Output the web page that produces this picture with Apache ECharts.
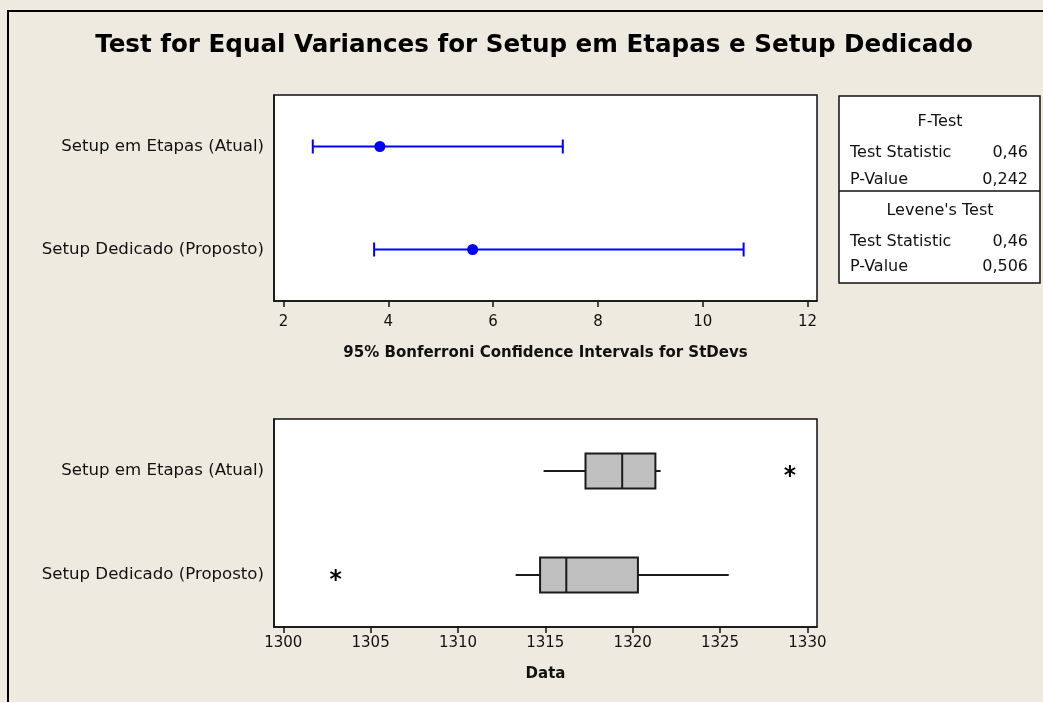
<!DOCTYPE html>
<html>
<head>
<meta charset="utf-8">
<script src="https://cdn.jsdelivr.net/npm/echarts@6/dist/echarts.min.js"></script>
<style>
  html, body { margin: 0; padding: 0; background: #EEEAE0; }
  #chart { width: 1043px; height: 702px; }
</style>
</head>
<body>
<div id="chart"></div>
<script>
// groups, top to bottom
const groups = ['Setup em Etapas (Atual)', 'Setup Dedicado (Proposto)'];

// 95% Bonferroni CI for StDev: [lower, estimate, upper]
const ciLow = [2.56, 3.73];
const ciEst = [3.84, 5.61];
const ciHigh = [7.33, 10.78];
const ciTicks = [2, 4, 6, 8, 10, 12];

// boxplot stats (min whisker, Q1, median, Q3, max whisker)
const whiskLow = [1314.9, 1313.3];
const q1 = [1317.3, 1314.7];
const median = [1319.4, 1316.2];
const q3 = [1321.3, 1320.3];
const whiskHigh = [1321.6, 1325.5];
const outliers = [[1329.0, 0], [1303.0, 1]];
const dataTicks = [1300, 1305, 1310, 1315, 1320, 1325, 1330];

// test results table
const fTestRows = [['Test Statistic', '0,46'], ['P-Value', '0,242']];
const leveneRows = [['Test Statistic', '0,46'], ['P-Value', '0,506']];

const font = 'DejaVu Sans';
const ink = '#111';

const chart = echarts.init(document.getElementById('chart'));

const ciData = groups.map((g, i) => [i, ciLow[i], ciEst[i], ciHigh[i]]);
const boxData = groups.map((g, i) => [i, whiskLow[i], q1[i], median[i], q3[i], whiskHigh[i]]);

function catAxis(gridIndex) {
  return {
    type: 'category',
    gridIndex: gridIndex,
    data: groups,
    inverse: true,
    axisLine: { lineStyle: { color: ink, width: 1.5 } },
    axisTick: { alignWithLabel: true, length: 8, lineStyle: { color: ink, width: 1.5 } },
    axisLabel: { fontFamily: font, fontSize: 16.6, color: ink, margin: 10 },
    splitLine: { show: false }
  };
}

function valAxis(gridIndex, min, max, ticks, name, gap, labelMargin) {
  return {
    type: 'value',
    gridIndex: gridIndex,
    min: min, max: max,
    name: name,
    nameLocation: 'middle',
    nameGap: gap,
    nameTextStyle: { fontFamily: font, fontSize: 15, fontWeight: 'bold', color: ink },
    axisLine: { show: true, lineStyle: { color: ink, width: 1.5 } },
    axisTick: { show: true, length: 6, customValues: ticks, lineStyle: { color: ink, width: 1.5 } },
    axisLabel: { fontFamily: font, fontSize: 15, color: ink, margin: labelMargin,
      customValues: ticks, formatter: v => String(v) },
    splitLine: { show: false }
  };
}

// table text
const tableGraphics = [
  { type: 'rect', shape: { x: 839, y: 96, width: 201, height: 187 },
    style: { fill: '#fff', stroke: ink, lineWidth: 1.5 } },
  { type: 'line', shape: { x1: 839, y1: 191, x2: 1040, y2: 191 },
    style: { stroke: ink, lineWidth: 1.5 } },
  { type: 'text', x: 940, y: 122, style: { text: 'F-Test', font: '16px ' + font, fill: ink, align: 'center', verticalAlign: 'middle' } },
  { type: 'text', x: 940, y: 211, style: { text: "Levene's Test", font: '16px ' + font, fill: ink, align: 'center', verticalAlign: 'middle' } }
];
[[fTestRows, [153, 180]], [leveneRows, [242, 267]]].forEach(([rows, ys]) => {
  rows.forEach((r, k) => {
    tableGraphics.push({ type: 'text', x: 850, y: ys[k],
      style: { text: r[0], font: '16px ' + font, fill: ink, align: 'left', verticalAlign: 'middle' } });
    tableGraphics.push({ type: 'text', x: 1028, y: ys[k],
      style: { text: r[1], font: '16px ' + font, fill: ink, align: 'right', verticalAlign: 'middle' } });
  });
});

const option = {
  backgroundColor: '#EEEAE0',
  animation: false,
  title: {
    text: 'Test for Equal Variances for Setup em Etapas e Setup Dedicado',
    left: 529,
    textAlign: 'center',
    top: 28,
    textStyle: { fontFamily: font, fontSize: 24.6, fontWeight: 'bold', color: '#000' }
  },
  grid: [
    { left: 274, top: 95, width: 543, height: 206, show: true, backgroundColor: '#fff', borderColor: ink, borderWidth: 1.5 },
    { left: 274, top: 419, width: 543, height: 208, show: true, backgroundColor: '#fff', borderColor: ink, borderWidth: 1.5 }
  ],
  xAxis: [
    valAxis(0, 1.82, 12.18, ciTicks, '95% Bonferroni Confidence Intervals for StDevs', 45, 14),
    valAxis(1, 1299.47, 1330.55, dataTicks, 'Data', 40, 9)
  ],
  yAxis: [catAxis(0), catAxis(1)],
  graphic: [
    { type: 'polyline', shape: { points: [[8, 702], [8, 11], [1043, 11]] },
      style: { stroke: '#000', lineWidth: 2, fill: null } }
  ].concat(tableGraphics),
  series: [
    {
      type: 'custom',
      xAxisIndex: 0, yAxisIndex: 0,
      data: ciData,
      encode: { x: [1, 2, 3], y: 0 },
      renderItem: function (params, api) {
        const c = api.value(0);
        const a = api.coord([api.value(1), c]);
        const b = api.coord([api.value(3), c]);
        const h = 7;
        const st = { stroke: '#0000FF', lineWidth: 2 };
        return {
          type: 'group',
          children: [
            { type: 'line', shape: { x1: a[0], y1: a[1], x2: b[0], y2: b[1] }, style: st },
            { type: 'line', shape: { x1: a[0], y1: a[1] - h, x2: a[0], y2: a[1] + h }, style: st },
            { type: 'line', shape: { x1: b[0], y1: b[1] - h, x2: b[0], y2: b[1] + h }, style: st }
          ]
        };
      }
    },
    {
      type: 'scatter',
      xAxisIndex: 0, yAxisIndex: 0,
      data: groups.map((g, i) => [ciEst[i], i]),
      symbol: 'circle',
      symbolSize: 11,
      itemStyle: { color: '#0000FF', opacity: 1 }
    },
    {
      type: 'custom',
      xAxisIndex: 1, yAxisIndex: 1,
      data: boxData,
      encode: { x: [1, 2, 3, 4, 5], y: 0 },
      renderItem: function (params, api) {
        const c = api.value(0);
        const p = [1, 2, 3, 4, 5].map(k => api.coord([api.value(k), c]));
        const y = p[0][1];
        const h = 17.5;
        const st = { stroke: '#1a1a1a', lineWidth: 2 };
        return {
          type: 'group',
          children: [
            { type: 'line', shape: { x1: p[0][0], y1: y, x2: p[1][0], y2: y }, style: st },
            { type: 'line', shape: { x1: p[3][0], y1: y, x2: p[4][0], y2: y }, style: st },
            { type: 'rect', shape: { x: p[1][0], y: y - h, width: p[3][0] - p[1][0], height: 2 * h },
              style: { fill: '#C0C0C0', stroke: '#1a1a1a', lineWidth: 2 } },
            { type: 'line', shape: { x1: p[2][0], y1: y - h, x2: p[2][0], y2: y + h }, style: st }
          ]
        };
      }
    },
    {
      type: 'custom',
      xAxisIndex: 1, yAxisIndex: 1,
      data: outliers,
      encode: { x: 0, y: 1 },
      renderItem: function (params, api) {
        const pt = api.coord([api.value(0), api.value(1)]);
        const r = 6;
        const st = { stroke: '#000', lineWidth: 2 };
        const dx = r * 0.87, dy = r * 0.5;
        return {
          type: 'group',
          children: [
            { type: 'line', shape: { x1: pt[0], y1: pt[1] - r, x2: pt[0], y2: pt[1] + r }, style: st },
            { type: 'line', shape: { x1: pt[0] - dx, y1: pt[1] - dy, x2: pt[0] + dx, y2: pt[1] + dy }, style: st },
            { type: 'line', shape: { x1: pt[0] - dx, y1: pt[1] + dy, x2: pt[0] + dx, y2: pt[1] - dy }, style: st }
          ]
        };
      }
    }
  ]
};

chart.setOption(option);
</script>
</body>
</html>
